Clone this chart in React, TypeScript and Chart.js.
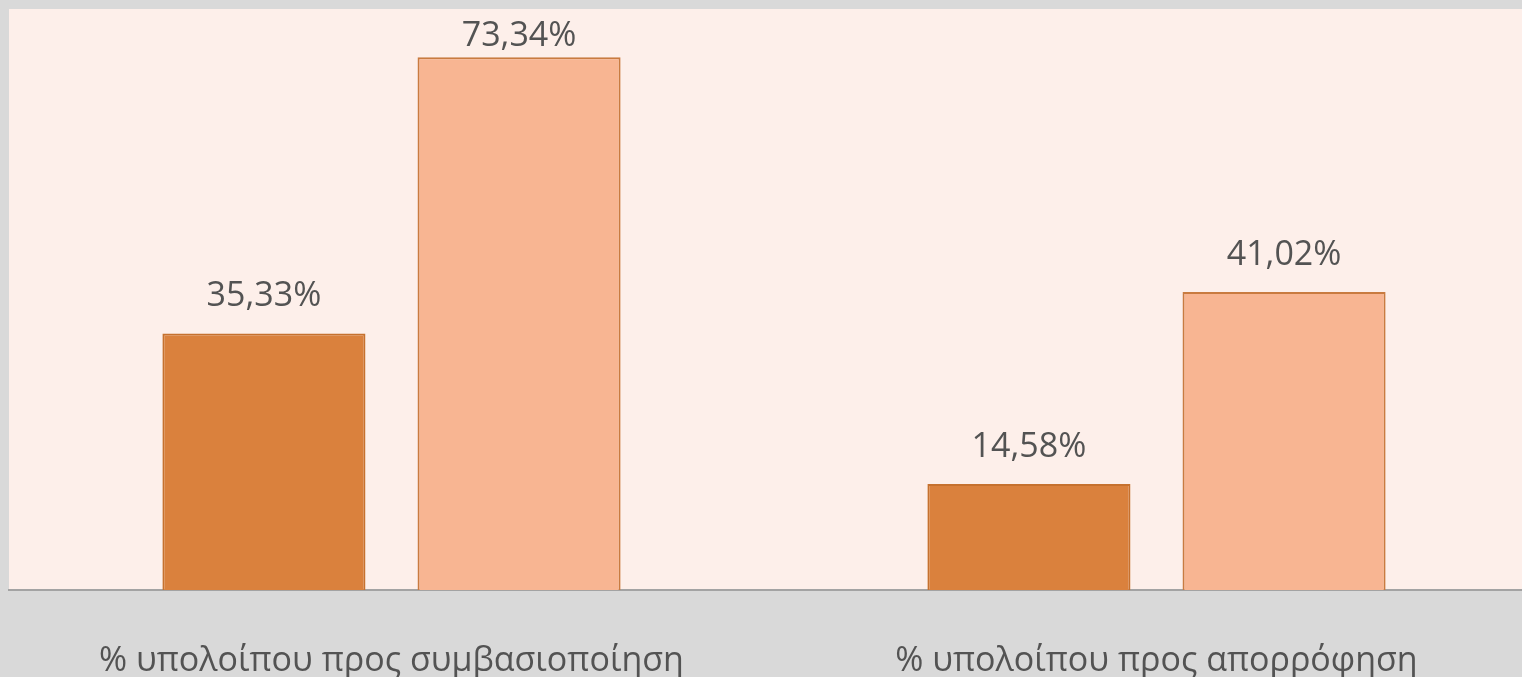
import React, { useEffect, useRef } from "react";
import { Chart, registerables } from "chart.js";

Chart.register(...registerables);

const categories = ["% υπολοίπου προς συμβασιοποίηση", "% υπολοίπου προς απορρόφηση"];
const seriesA = [35.33, 14.58];
const seriesB = [73.34, 41.02];
const yMax = 80;

const fmt = (v: number) => v.toFixed(2).replace(".", ",") + "%";

const FONT = "'Open Sans', 'Noto Sans', sans-serif";

const plotBg = {
  id: "plotBg",
  beforeDraw(chart: any) {
    const { ctx, chartArea } = chart;
    ctx.save();
    ctx.fillStyle = "#fdefea";
    ctx.fillRect(chartArea.left, chartArea.top, chartArea.right - chartArea.left, chartArea.bottom - chartArea.top);
    ctx.restore();
  },
};

const dataLabels = {
  id: "dataLabels",
  afterDatasetsDraw(chart: any) {
    const { ctx, chartArea } = chart;
    ctx.save();
    ctx.font = `34px ${FONT}`;
    ctx.fillStyle = "#535353";
    ctx.textAlign = "center";
    ctx.textBaseline = "alphabetic";
    chart.data.datasets.forEach((ds: any, di: number) => {
      const meta = chart.getDatasetMeta(di);
      meta.data.forEach((bar: any, i: number) => {
        const y = Math.max(bar.y - 27, chartArea.top + 37);
        ctx.fillText(fmt(ds.data[i]), bar.x, y);
      });
    });
    ctx.restore();
  },
};

export default function App() {
  const ref = useRef<HTMLCanvasElement>(null);
  useEffect(() => {
    const chart = new Chart(ref.current!, {
      type: "bar",
      data: {
        labels: categories,
        datasets: [
          {
            data: seriesA,
            backgroundColor: "#da813d",
            borderColor: "#c6712e",
            borderWidth: 2,
            categoryPercentage: 0.667,
            barPercentage: 0.796,
          },
          {
            data: seriesB,
            backgroundColor: "#f8b592",
            borderColor: "#c97b40",
            borderWidth: 2,
            categoryPercentage: 0.667,
            barPercentage: 0.796,
          },
        ],
      },
      options: {
        animation: false,
        responsive: false,
        layout: { padding: { left: 9, right: 1, top: 9, bottom: 0 } },
        plugins: { legend: { display: false }, tooltip: { enabled: false } },
        scales: {
          x: {
            grid: { display: false },
            border: { display: true, color: "#a3a3a3", width: 2 },
            ticks: { color: "#535353", font: { family: FONT, size: 34 }, padding: 43, maxRotation: 0, autoSkip: false },
            afterFit(scale: any) {
              scale.height = 87;
            },
          },
          y: { display: false, min: 0, max: yMax },
        },
      },
      plugins: [plotBg, dataLabels],
    });
    return () => chart.destroy();
  }, []);
  return (
    <div style={{ position: "fixed", left: 0, top: 0, width: 1522, height: 677, overflow: "hidden", background: "#d9d9d9" }}>
      <canvas ref={ref} width={1540} height={677} style={{ display: "block" }} />
    </div>
  );
}
